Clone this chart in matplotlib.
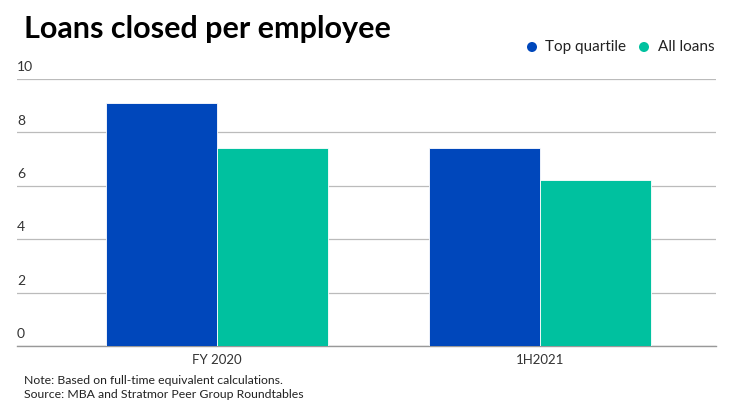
import matplotlib.pyplot as plt
import numpy as np

plt.rcParams['font.family'] = ['Lato', 'DejaVu Sans']

categories = ['FY 2020', '1H2021']
top_quartile = [9.1, 7.4]
all_loans = [7.4, 6.2]
series_names = ['Top quartile', 'All loans']
colors = ['#0047BB', '#00C19F']
yticks = [0, 2, 4, 6, 8, 10]

fig = plt.figure(figsize=(7.4, 4.16), dpi=100)
ax = fig.add_axes([17 / 740, 1 - 346 / 416, 699 / 740, 267 / 416])

x = np.arange(len(categories))
w = 0.344
ax.bar(x - w / 2, top_quartile, w, color=colors[0], edgecolor='white', linewidth=0.6, zorder=3)
ax.bar(x + w / 2, all_loans, w, color=colors[1], edgecolor='white', linewidth=0.6, zorder=3)

ax.set_xlim(-0.619, 1.545)
ax.set_ylim(0, 10)
for s in ['top', 'right', 'left']:
    ax.spines[s].set_visible(False)
ax.spines['bottom'].set_color('#999999')
ax.spines['bottom'].set_linewidth(1)
ax.set_yticks(yticks)
ax.yaxis.grid(True, color='#bbbbbb', linewidth=0.9, zorder=0)
ax.tick_params(axis='y', length=0, labelleft=False)
for t in yticks:
    ax.text(0.0, t + 0.22, str(t), transform=ax.get_yaxis_transform(),
            ha='left', va='bottom', fontsize=10, color='#333333')
ax.set_xticks(x)
ax.set_xticklabels(categories, fontsize=9.5, color='#333333')
ax.tick_params(axis='x', length=0, pad=6)

fig.text(24 / 740, 1 - 29 / 416, 'Loans closed per employee', fontsize=22,
         fontweight='bold', ha='left', va='center', color='black')

# legend drawn by hand in pixel coords
lax = fig.add_axes([0, 0, 1, 1], facecolor='none')
lax.set_xlim(0, 740)
lax.set_ylim(416, 0)
lax.axis('off')
lax.scatter([532, 644], [47, 47], s=52, c=colors, linewidths=0)
lax.text(545, 47, series_names[0], fontsize=11, ha='left', va='center', color='#222222')
lax.text(658, 47, series_names[1], fontsize=11, ha='left', va='center', color='#222222')

fig.text(24 / 740, 1 - 381 / 416, 'Note: Based on full-time equivalent calculations.',
         fontsize=8.8, ha='left', va='center', color='#222222')
fig.text(24 / 740, 1 - 395 / 416, 'Source: MBA and Stratmor Peer Group Roundtables',
         fontsize=8.8, ha='left', va='center', color='#222222')

fig.savefig('out.png', dpi=100)
